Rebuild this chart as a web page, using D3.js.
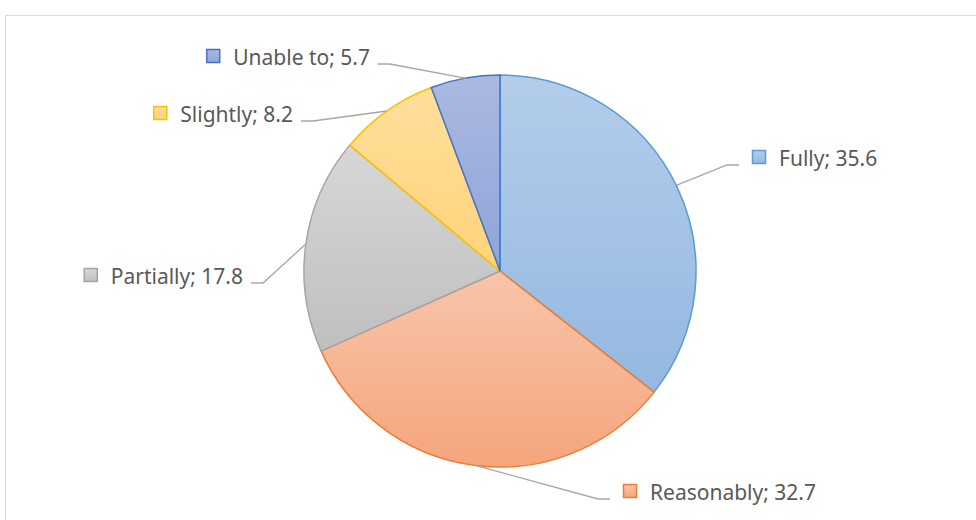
<!DOCTYPE html>
<html>
<head>
<meta charset="utf-8">
<script src="https://cdn.jsdelivr.net/npm/d3@7"></script>
<style>
  body { margin: 0; background: #fff; }
  text { font-family: "Noto Sans", "Open Sans", sans-serif; }
</style>
</head>
<body>
<script>
// data
var categories = ["Fully", "Reasonably", "Partially", "Slightly", "Unable to"];
var values = [35.6, 32.7, 17.8, 8.2, 5.7];

// colours: stroke, gradient top, gradient bottom
var strokeColors = ["#5b9bd5", "#ed7d31", "#a5a5a5", "#ffc000", "#4472c4"];
var topColors = ["#b3cdea", "#f8c5aa", "#d7d7d7", "#ffdf9c", "#abb9e1"];
var bottomColors = ["#94b8e2", "#f5a57d", "#bfbfbf", "#ffd47a", "#8ea4d8"];

// label layout: elbow of the leader line, and which side the label sits
var labelElbow = [[727, 165], [598, 499], [263, 283], [313, 121], [390, 64]];
var labelSide = ["right", "right", "left", "left", "left"];

var width = 976, height = 520;
var cx = 500, cy = 271, radius = 196;

var svg = d3.select("body").append("svg")
    .attr("width", width)
    .attr("height", height);

// chart area border
svg.append("rect")
    .attr("x", 5.5).attr("y", 15.5)
    .attr("width", 1000).attr("height", 600)
    .attr("fill", "#fff")
    .attr("stroke", "#d9d9d9")
    .attr("stroke-width", 1);

var defs = svg.append("defs");
categories.forEach(function(c, i) {
  var grad = defs.append("linearGradient")
      .attr("id", "grad" + i)
      .attr("x1", 0).attr("y1", 0).attr("x2", 0).attr("y2", 1);
  grad.append("stop").attr("offset", "0%").attr("stop-color", topColors[i]);
  grad.append("stop").attr("offset", "100%").attr("stop-color", bottomColors[i]);
});

var pie = d3.pie().sort(null).value(function(d) { return d; });
var arcs = pie(values);

var arc = d3.arc().innerRadius(0).outerRadius(radius);

var g = svg.append("g")
    .attr("transform", "translate(" + cx + "," + cy + ")");

g.selectAll("path.slice")
    .data(arcs)
    .enter().append("path")
    .attr("class", "slice")
    .attr("d", arc)
    .attr("fill", function(d, i) { return "url(#grad" + i + ")"; })
    .attr("stroke", function(d, i) { return strokeColors[i]; })
    .attr("stroke-width", 1.5)
    .attr("stroke-linejoin", "round");

// leader lines and labels
arcs.forEach(function(d, i) {
  var mid = (d.startAngle + d.endAngle) / 2;
  var px = cx + radius * Math.sin(mid);
  var py = cy - radius * Math.cos(mid);
  var ex = labelElbow[i][0], ey = labelElbow[i][1];
  var endX = labelSide[i] == "right" ? ex + 12 : ex - 12;

  svg.append("polyline")
      .attr("points", px + "," + py + " " + ex + "," + ey + " " + endX + "," + ey)
      .attr("fill", "none")
      .attr("stroke", "#a6a6a6")
      .attr("stroke-width", 1.3);

  var label = svg.append("text")
      .attr("y", ey + 1)
      .attr("fill", "#595959")
      .style("font-size", "21px")
      .text(categories[i] + "; " + values[i]);

  var markerX;
  if (labelSide[i] == "right") {
    label.attr("x", endX + 40).attr("text-anchor", "start");
    markerX = endX + 13;
  } else {
    label.attr("x", endX - 8).attr("text-anchor", "end");
    var w = label.node().getComputedTextLength();
    markerX = endX - 8 - w - 27;
  }

  svg.append("rect")
      .attr("x", markerX + 0.5)
      .attr("y", ey - 14.5)
      .attr("width", 13)
      .attr("height", 13)
      .attr("fill", "url(#grad" + i + ")")
      .attr("stroke", strokeColors[i])
      .attr("stroke-width", 1.5);
});
</script>
</body>
</html>
